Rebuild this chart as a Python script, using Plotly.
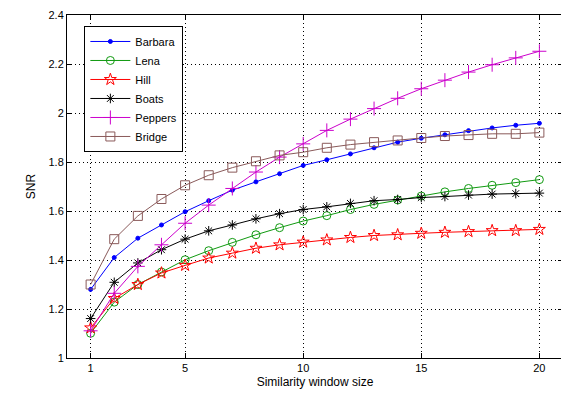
import plotly.graph_objects as go

window_size = list(range(1, 21))

barbara = [1.28, 1.41, 1.489, 1.543, 1.597, 1.642, 1.685, 1.719, 1.752, 1.786,
           1.809, 1.833, 1.858, 1.881, 1.897, 1.911, 1.928, 1.939, 1.950, 1.958]
lena = [1.101, 1.228, 1.300, 1.351, 1.401, 1.438, 1.472, 1.503, 1.532, 1.559,
        1.581, 1.606, 1.627, 1.645, 1.661, 1.678, 1.692, 1.705, 1.716, 1.728]
hill = [1.123, 1.243, 1.300, 1.347, 1.378, 1.408, 1.428, 1.448, 1.462, 1.473,
        1.482, 1.492, 1.500, 1.503, 1.509, 1.513, 1.516, 1.520, 1.520, 1.525]
boats = [1.161, 1.309, 1.388, 1.442, 1.485, 1.519, 1.543, 1.568, 1.589, 1.606,
         1.617, 1.631, 1.642, 1.647, 1.655, 1.659, 1.665, 1.669, 1.671, 1.673]
peppers = [1.111, 1.264, 1.374, 1.462, 1.550, 1.624, 1.692, 1.759, 1.820, 1.874,
           1.929, 1.975, 2.018, 2.060, 2.099, 2.134, 2.167, 2.197, 2.225, 2.252]
bridge = [1.300, 1.485, 1.580, 1.649, 1.705, 1.746, 1.777, 1.803, 1.827, 1.840,
          1.858, 1.871, 1.881, 1.888, 1.898, 1.906, 1.910, 1.915, 1.915, 1.920]

x_ticks = [1, 5, 10, 15, 20]
y_ticks = [1, 1.2, 1.4, 1.6, 1.8, 2, 2.2, 2.4]
y_tick_labels = ["1", "1.2", "1.4", "1.6", "1.8", "2", "2.2", "2.4"]

series = [
    ("Barbara", barbara, "#0000ff", "circle", 4),
    ("Lena", lena, "#109a10", "circle-open", 8),
    ("Hill", hill, "#ff0000", "star-open", 9),
    ("Boats", boats, "#000000", "asterisk-open", 8),
    ("Peppers", peppers, "#cc00cc", "cross-thin-open", 10),
    ("Bridge", bridge, "#8a5a5a", "square-open", 9),
]

fig = go.Figure()
for name, vals, color, sym, size in series:
    fig.add_trace(go.Scatter(
        x=window_size, y=vals, name=name, mode="lines+markers",
        line=dict(color=color, width=1),
        marker=dict(symbol=sym, size=size, color=color,
                    line=dict(color=color, width=1)),
    ))

font_family = "Liberation Sans, Arial"
axis_common = dict(
    showline=True, linecolor="black", linewidth=1, mirror="ticks",
    ticks="inside", ticklen=5, tickcolor="black",
    showgrid=True, gridcolor="black", griddash="1px,3px", gridwidth=1,
    zeroline=False, ticklabeloverflow="allow", automargin=False,
    tickfont=dict(family=font_family, size=11, color="black"),
)

fig.update_xaxes(range=[0, 21], tickvals=x_ticks,
                 title=dict(text="Similarity window size", standoff=4,
                            font=dict(family=font_family, size=12, color="black")),
                 **axis_common)
fig.update_yaxes(range=[1, 2.4], tickvals=y_ticks, ticktext=y_tick_labels,
                 title=dict(text="SNR", standoff=10,
                            font=dict(family=font_family, size=12, color="black")),
                 **axis_common)

fig.update_layout(
    width=569, height=396,
    margin=dict(l=59, r=14, t=7, b=46),
    paper_bgcolor="white", plot_bgcolor="white",
    showlegend=True,
    legend=dict(x=0.035, y=0.968, xanchor="left", yanchor="top",
                bgcolor="white", bordercolor="black", borderwidth=1,
                font=dict(family=font_family, size=11, color="black"),
                tracegroupgap=0, itemwidth=40),
)

fig.write_html("out.html")
